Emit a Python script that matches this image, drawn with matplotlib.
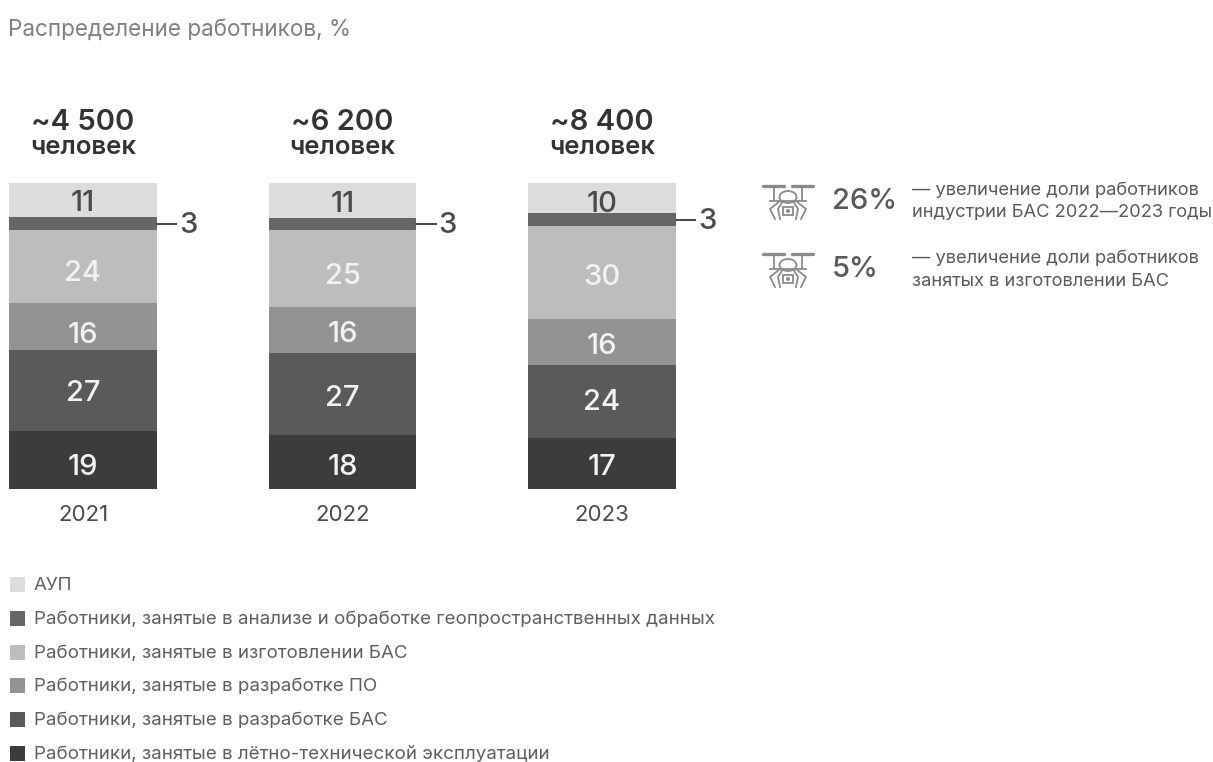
import matplotlib
matplotlib.use("Agg")
import matplotlib.pyplot as plt
from matplotlib.patches import Circle, Ellipse, Rectangle

plt.rcParams["font.family"] = ["Inter", "DejaVu Sans"]

W, H = 1213, 762

years = ["2021", "2022", "2023"]
totals = ["~4 500", "~6 200", "~8 400"]
series_names = [
    "АУП",
    "Работники, занятые в анализе и обработке геопространственных данных",
    "Работники, занятые в изготовлении БАС",
    "Работники, занятые в разработке ПО",
    "Работники, занятые в разработке БАС",
    "Работники, занятые в лётно-технической эксплуатации",
]
colors = ["#dcdcdc", "#666666", "#bdbdbd", "#939393", "#5a5a5a", "#3c3c3c"]
label_colors = ["#4a4a4a", None, "#f2f2f2", "#f2f2f2", "#f2f2f2", "#f2f2f2"]

# printed values, top segment first
aup = [11, 11, 10]
geo = [3, 3, 3]
making = [24, 25, 30]
software = [16, 16, 16]
dev = [27, 27, 24]
flight = [19, 18, 17]

# drawn heights as measured, the thin 3% band is wider in the picture than its value
aup_h = [11.1, 11.4, 9.8]
geo_h = [4.3, 3.9, 4.3]
making_h = [23.9, 25.2, 30.4]
software_h = [15.3, 15.0, 15.0]
dev_h = [26.5, 26.8, 23.9]
flight_h = [18.9, 17.7, 16.6]

values = [aup, geo, making, software, dev, flight]
heights = [aup_h, geo_h, making_h, software_h, dev_h, flight_h]

# the labels are not quite centred in the reference, downward shift in pixels per year
label_shift = [
    [0, 0, 3],
    [0, 0, 0],
    [3, 4, 1],
    [5, 1, 0],
    [-1, 1, -3],
    [3, 2, 0],
]

notes = [
    ("26%", "— увеличение доли работников", "индустрии БАС 2022—2023 годы"),
    ("5%", "— увеличение доли работников", "занятых в изготовлении БАС"),
]


def draw_drone(ax, cx, cy, color="#8a8a8a"):
    lw = 1.3
    for sx in (-1, 1):
        ax.plot([cx + sx * 25, cx + sx * 4], [cy - 13, cy - 13], color=color, lw=2.4, solid_capstyle="round")
        ax.plot([cx + sx * 14, cx + sx * 14], [cy - 13, cy + 1], color=color, lw=lw)
        ax.plot([cx + sx * 8, cx + sx * 18, cx + sx * 13], [cy + 2, cy + 10, cy + 20], color=color, lw=lw)
        ax.plot([cx + sx * 5, cx + sx * 10, cx + sx * 8], [cy + 2, cy + 10, cy + 20], color=color, lw=lw)
    ax.add_patch(Ellipse((cx, cy - 2), 17, 12, fc="none", ec=color, lw=lw))
    ax.plot([cx - 18, cx + 18], [cy + 2, cy + 2], color=color, lw=lw)
    ax.add_patch(Rectangle((cx - 5, cy + 8), 10, 8, fc="none", ec=color, lw=lw))
    ax.add_patch(Circle((cx, cy + 12), 2, fc=color, ec="none"))


fig = plt.figure(figsize=(W / 100, H / 100), dpi=100, facecolor="white")

# bars: left edge of first bar 9 px, right edge of last 676 px, y from 489 to 183 px
ax = fig.add_axes([9 / W, 1 - 489 / H, (676 - 9) / W, (489 - 183) / H])
xs = list(range(len(years)))
bar_w = 0.57
px_per_unit = (489 - 183) / 100
for i in xs:
    top = 100.0
    for s in range(len(series_names)):
        h = heights[s][i]
        ax.bar(i, h, bottom=top - h, width=bar_w, color=colors[s], linewidth=0)
        y = top - h / 2
        if label_colors[s]:
            ax.text(i, y - 1.3 - label_shift[s][i] / px_per_unit, str(values[s][i]), ha="center", va="center",
                    fontsize=21, fontweight="medium", color=label_colors[s])
        else:
            # leader line to the label beside the thin band
            ax.plot([i + bar_w / 2, i + bar_w / 2 + 0.075], [y, y], color="#4a4a4a", lw=1.5)
            ax.text(i + bar_w / 2 + 0.085, y - 0.7, str(values[s][i]), ha="left", va="center",
                    fontsize=21, fontweight="medium", color="#4a4a4a")
        top -= h
ax.set_xlim(-bar_w / 2, 2 + bar_w / 2)
ax.set_ylim(0, 100)
ax.axis("off")
for t in ax.texts + ax.lines:
    t.set_clip_on(False)

# everything else is placed in picture pixels
pg = fig.add_axes([0, 0, 1, 1], zorder=-1)
pg.set_xlim(0, W)
pg.set_ylim(H, 0)
pg.axis("off")

pg.text(8, 30, "Распределение работников, %", fontsize=16.2, color="#808080", va="center")

for i, cx in enumerate([83, 342.5, 602]):
    pg.text(cx, 122, totals[i], ha="center", va="center", fontsize=21, fontweight="semibold", color="#333333")
    pg.text(cx, 148, "человек", ha="center", va="center", fontsize=18.5, fontweight="semibold", color="#333333")
    pg.text(cx, 515, years[i], ha="center", va="center", fontsize=16, color="#4a4a4a")

for (pct, l1, l2), cy in zip(notes, [199, 267]):
    draw_drone(pg, 788, cy)
    pg.text(832, cy + 2.5, pct, fontsize=21, fontweight="medium", color="#5a5a5a", va="center")
    pg.text(912, cy - 8, l1, fontsize=13.2, color="#5a5a5a", va="center")
    pg.text(912, cy + 14, l2, fontsize=13.2, color="#5a5a5a", va="center")

for name, color, y in zip(series_names, colors, [584, 618, 652, 685, 719, 753]):
    pg.add_patch(Rectangle((10, y - 7.5), 15, 15, fc=color, ec="none"))
    pg.text(34, y + 1.5, name, fontsize=13.5, color="#5f5f5f", va="center")

fig.savefig("out.png", dpi=100, facecolor="white")
